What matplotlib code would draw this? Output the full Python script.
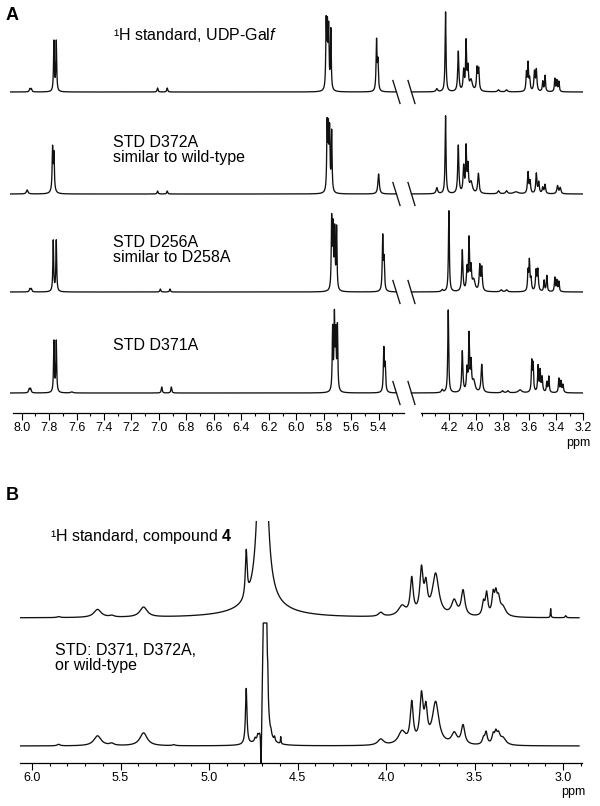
import numpy as np
import matplotlib
matplotlib.use('Agg')
import matplotlib.pyplot as plt

plt.rcParams['font.family'] = ['Liberation Sans', 'DejaVu Sans']
plt.rcParams['mathtext.fontset'] = 'custom'
plt.rcParams['mathtext.rm'] = 'Liberation Sans'
plt.rcParams['mathtext.it'] = 'Liberation Sans:italic'
plt.rcParams['mathtext.bf'] = 'Liberation Sans:bold'

# peak lists: (ppm, height, half width in ppm)
udp_std = [(7.94, 3, 0.005), (7.93, 3, 0.005), (7.765, 50, 0.0035), (7.748, 50, 0.0035),
           (7.01, 4, 0.004), (6.94, 4, 0.004),
           (5.782, 66, 0.0035), (5.773, 58, 0.0035), (5.764, 58, 0.0035), (5.748, 60, 0.0035),
           (5.415, 50, 0.004), (5.405, 28, 0.004),
           (4.29, 3, 0.007), (4.225, 80, 0.004), (4.13, 40, 0.005), (4.09, 20, 0.005),
           (4.072, 48, 0.004), (4.058, 22, 0.005), (4.035, 11, 0.012), (3.99, 22, 0.005),
           (3.978, 21, 0.005), (3.83, 2, 0.008), (3.77, 2, 0.008),
           (3.622, 18, 0.004), (3.61, 27, 0.004), (3.598, 12, 0.005), (3.562, 19, 0.005),
           (3.548, 21, 0.005), (3.50, 10, 0.004), (3.483, 16, 0.004),
           (3.41, 13, 0.004), (3.395, 11, 0.004), (3.38, 10, 0.004)]
std_d372a = [(7.96, 4, 0.007), (7.775, 40, 0.0035), (7.765, 34, 0.0035), (7.77, 6, 0.012),
             (7.01, 3, 0.004), (6.94, 3, 0.004),
             (5.775, 66, 0.0035), (5.766, 58, 0.0035), (5.757, 58, 0.0035), (5.742, 60, 0.0035),
             (5.40, 20, 0.006),
             (4.29, 6, 0.007), (4.225, 78, 0.004), (4.13, 48, 0.005), (4.09, 26, 0.005),
             (4.072, 44, 0.004), (4.058, 26, 0.005), (4.035, 11, 0.012), (3.98, 20, 0.006),
             (3.83, 3, 0.008), (3.77, 3, 0.008), (3.70, 2, 0.02),
             (3.61, 21, 0.005), (3.595, 12, 0.005), (3.548, 20, 0.005), (3.53, 11, 0.005),
             (3.50, 6, 0.005), (3.483, 9, 0.005), (3.39, 8, 0.006), (3.37, 6, 0.006)]
std_d256a = [(7.94, 3, 0.005), (7.93, 3, 0.005), (7.77, 51, 0.0035), (7.748, 51, 0.0035),
             (6.99, 3, 0.004), (6.92, 3, 0.004),
             (5.742, 70, 0.0035), (5.732, 60, 0.0035), (5.72, 58, 0.0035), (5.706, 62, 0.0035),
             (5.37, 54, 0.004), (5.36, 30, 0.004),
             (4.25, 2, 0.007), (4.20, 81, 0.004), (4.10, 41, 0.005), (4.065, 22, 0.005),
             (4.05, 50, 0.004), (4.035, 22, 0.005), (4.015, 11, 0.012), (3.97, 25, 0.005),
             (3.955, 23, 0.005), (3.81, 2, 0.008), (3.77, 2, 0.008),
             (3.61, 19, 0.004), (3.60, 29, 0.004), (3.588, 12, 0.005), (3.55, 20, 0.005),
             (3.537, 21, 0.005), (3.49, 11, 0.004), (3.47, 16, 0.004),
             (3.41, 14, 0.004), (3.395, 11, 0.004), (3.38, 10, 0.004)]
std_d371a = [(7.945, 4, 0.005), (7.935, 4, 0.005), (7.765, 51, 0.0035), (7.748, 51, 0.0035),
             (7.635, 1, 0.01), (6.98, 6, 0.004), (6.91, 6, 0.004),
             (5.735, 62, 0.0035), (5.722, 72, 0.0035), (5.712, 54, 0.0035), (5.70, 64, 0.0035),
             (5.362, 43, 0.004), (5.352, 26, 0.004),
             (4.25, 3, 0.007), (4.205, 83, 0.004), (4.10, 41, 0.005), (4.065, 22, 0.005),
             (4.05, 55, 0.004), (4.035, 28, 0.005), (4.015, 11, 0.012), (3.955, 28, 0.006),
             (3.80, 2, 0.008), (3.76, 2, 0.008), (3.67, 3, 0.015),
             (3.582, 30, 0.004), (3.572, 27, 0.004), (3.535, 26, 0.004), (3.52, 21, 0.004),
             (3.505, 15, 0.005), (3.47, 10, 0.004), (3.455, 16, 0.004),
             (3.38, 14, 0.004), (3.365, 11, 0.004), (3.35, 8, 0.005)]
spectra_a = [udp_std, std_d372a, std_d256a, std_d371a]
labels_a = ['¹H standard, UDP-Gal$\\mathit{f}$', 'STD D372A\nsimilar to wild-type',
            'STD D256A\nsimilar to D258A', 'STD D371A']

cmpd_std = [(5.85, 1, 0.01), (5.63, 8, 0.025), (5.55, 1.5, 0.015), (5.37, 10, 0.025),
            (4.79, 46, 0.006), (4.698, 450, 0.017), (4.698, 10, 0.17),
            (4.03, 4, 0.015), (3.91, 10, 0.025), (3.855, 36, 0.010), (3.80, 44, 0.011),
            (3.775, 26, 0.010), (3.72, 42, 0.022), (3.615, 15, 0.018), (3.565, 25, 0.012),
            (3.45, 13, 0.008), (3.432, 22, 0.008), (3.395, 20, 0.008), (3.38, 18, 0.008),
            (3.365, 15, 0.01), (3.34, 9, 0.02), (3.07, 9, 0.002), (2.985, 2, 0.004)]
std_b = [(5.85, 1.5, 0.01), (5.63, 10, 0.025), (5.55, 2, 0.015), (5.37, 13, 0.025),
         (5.2, 1, 0.01), (4.79, 56, 0.005), (4.74, 3, 0.004), (4.725, 3, 0.003),
         (4.706, -55, 0.003), (4.684, 700, 0.005), (4.668, 20, 0.002),
         (4.65, 3, 0.003), (4.63, 4, 0.003), (4.595, 7, 0.002),
         (4.03, 6, 0.02), (3.91, 13, 0.025), (3.855, 40, 0.010), (3.80, 46, 0.011),
         (3.775, 30, 0.010), (3.72, 42, 0.022), (3.615, 11, 0.018), (3.565, 19, 0.012),
         (3.45, 6, 0.008), (3.435, 12, 0.008), (3.395, 9, 0.008), (3.38, 10, 0.008),
         (3.365, 9, 0.01), (3.34, 7, 0.02)]
std_b_cap = 123
labels_b = ['¹H standard, compound $\\mathbf{4}$', 'STD: D371, D372A,\nor wild-type']

offsets_a = [321, 219, 121, 20]
offsets_b = [145, 17]


def trace(ppm, peaks):
    y = np.zeros_like(ppm)
    for p, h, w in peaks:
        y += h * w ** 2 / ((ppm - p) ** 2 + w ** 2)
    return y


W, H = 600, 806
fig = plt.figure(figsize=(6, 8.06), dpi=100)


def box(x0, y0, x1, y1):
    return [x0 / W, 1 - y1 / H, (x1 - x0) / W, (y1 - y0) / H]


def style(ax, lo, hi, major, minor):
    for s in ['top', 'left', 'right']:
        ax.spines[s].set_visible(False)
    ax.spines['bottom'].set_bounds(lo, hi)
    ax.spines['bottom'].set_linewidth(0.9)
    ax.set_yticks([])
    ax.set_xticks(major)
    ax.set_xticks(minor, minor=True)
    ax.tick_params(axis='x', which='major', direction='out', length=5, width=0.8,
                   labelsize=9, pad=1.5)
    ax.tick_params(axis='x', which='minor', direction='out', length=2.5, width=0.8)
    ax.patch.set_visible(False)


axL = fig.add_axes(box(10, 0, 404, 413))
axR = fig.add_axes(box(410, 0, 583, 413))
axB = fig.add_axes(box(20, 521, 582, 763))

line = dict(color='#111111', lw=0.95)
xl = np.linspace(8.085, 5.27, 6000)
xr = np.linspace(4.479, 3.2, 3000)
for peaks, off in zip(spectra_a, offsets_a):
    axL.plot(xl, trace(xl, peaks) + off, **line)
    axR.plot(xr, trace(xr, peaks) + off, **line)
    # break marks
    axL.plot([5.27 + 0.026, 5.27 - 0.026], [off + 11.5, off - 11.5], clip_on=False, **line)
    axR.plot([4.479 + 0.026, 4.479 - 0.026], [off + 11.5, off - 11.5], clip_on=False, **line)

axL.set_xlim(8.085, 5.215)
axR.set_xlim(4.49, 3.2)
axL.set_ylim(0, 413)
axR.set_ylim(0, 413)
style(axL, 8.06, 5.215, np.arange(8.0, 5.35, -0.2), np.arange(8.0, 5.25, -0.1))
style(axR, 4.41, 3.2, np.arange(4.2, 3.15, -0.2), np.arange(4.4, 3.15, -0.1))
axL.set_xticklabels(['%.1f' % v for v in np.arange(8.0, 5.35, -0.2)])
axR.set_xticklabels(['%.1f' % v for v in np.arange(4.2, 3.15, -0.2)])

xb = np.linspace(6.08, 2.91, 12000)
axB.plot(xb, trace(xb, cmpd_std) + offsets_b[0], **line)
axB.plot(xb, np.minimum(trace(xb, std_b), std_b_cap) + offsets_b[1], **line)
axB.set_xlim(6.068, 2.893)
axB.set_ylim(0, 242)
style(axB, 6.068, 2.893, np.arange(6.0, 2.95, -0.5), np.arange(6.0, 2.85, -0.1))
axB.set_xticklabels(['%.1f' % v for v in np.arange(6.0, 2.95, -0.5)])

# labels
fs = 11.5
fig.text(113 / W, 1 - 35 / H, labels_a[0], fontsize=fs, va='center')
fig.text(113 / W, 1 - 150 / H, labels_a[1], fontsize=fs, va='center', linespacing=1.05)
fig.text(113 / W, 1 - 250 / H, labels_a[2], fontsize=fs, va='center', linespacing=1.05)
fig.text(113 / W, 1 - 345 / H, labels_a[3], fontsize=fs, va='center')
fig.text(50 / W, 1 - 537 / H, labels_b[0], fontsize=fs, va='center')
fig.text(55 / W, 1 - 658 / H, labels_b[1], fontsize=fs, va='center', linespacing=1.05)
fig.text(578 / W, 1 - 443 / H, 'ppm', fontsize=9, ha='center', va='center')
fig.text(573 / W, 1 - 792 / H, 'ppm', fontsize=9, ha='center', va='center')
fig.text(12 / W, 1 - 15 / H, 'A', fontsize=13, fontweight='bold', ha='center', va='center')
fig.text(12 / W, 1 - 496 / H, 'B', fontsize=13, fontweight='bold', ha='center', va='center')

fig.savefig('out.png', dpi=100)
